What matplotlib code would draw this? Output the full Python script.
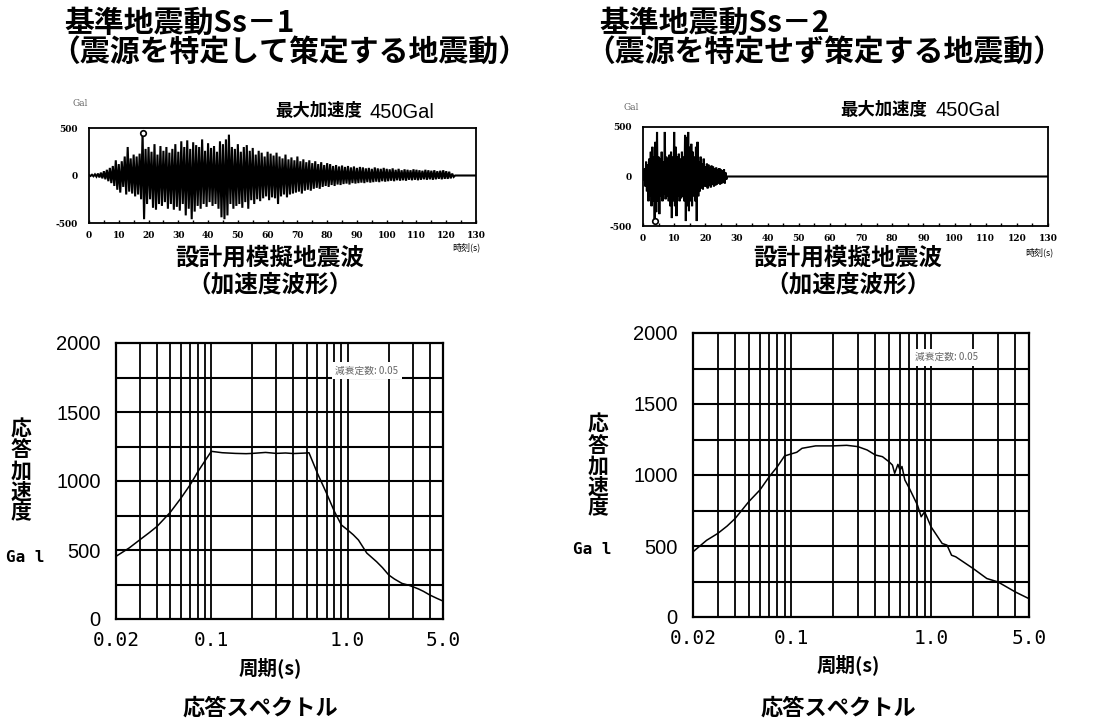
import matplotlib
matplotlib.use("Agg")
import matplotlib.pyplot as plt
from matplotlib.ticker import FixedLocator, NullFormatter, MultipleLocator

# ---------------- data ----------------
titles1 = ["基準地震動Ss－1", "（震源を特定して策定する地震動）"]
titles2 = ["基準地震動Ss－2", "（震源を特定せず策定する地震動）"]
peak_label_jp = "最大加速度"
peak_label_val = "450Gal"

# Ss-1 acceleration peaks, one positive / one negative per second (Gal)
ss1_pos = [5, 8, 12, 20, 30, 45, 60, 80, 100, 160,
           120, 150, 200, 300, 180, 220, 200, 230, 450, 280,
           300, 250, 330, 220, 310, 260, 300, 240, 280, 330,
           250, 360, 300, 370, 280, 350, 320, 300, 380, 260,
           340, 290, 310, 250, 360, 330, 380, 430, 300, 280,
           330, 250, 300, 320, 260, 290, 220, 260, 240, 200,
           250, 230, 210, 240, 200, 180, 220, 170, 190, 160,
           200, 150, 170, 140, 160, 130, 150, 120, 140, 110,
           130, 120, 100, 110, 95, 105, 90, 100, 85, 95,
           80, 90, 85, 75, 80, 70, 85, 75, 70, 80,
           70, 65, 75, 60, 70, 55, 65, 60, 55, 65,
           60, 55, 50, 60, 55, 50, 55, 45, 50, 55,
           45, 40, 20]
ss1_neg = [-5, -8, -12, -20, -30, -40, -60, -80, -110, -150,
           -180, -120, -200, -170, -190, -220, -200, -250, -460, -300,
           -250, -340, -360, -300, -320, -280, -350, -300, -360, -330,
           -370, -300, -420, -350, -460, -380, -320, -350, -300, -330,
           -280, -320, -300, -350, -440, -460, -420, -300, -350, -320,
           -300, -340, -280, -350, -260, -300, -250, -270, -240, -220,
           -260, -230, -240, -300, -220, -200, -230, -200, -190, -180,
           -170, -190, -160, -150, -160, -140, -130, -140, -120, -110,
           -120, -100, -110, -95, -100, -90, -85, -95, -80, -85,
           -80, -75, -80, -70, -75, -70, -65, -70, -60, -65,
           -60, -55, -60, -50, -55, -50, -55, -45, -50, -45,
           -50, -45, -40, -45, -40, -45, -40, -35, -40, -35,
           -35, -30, -15]
ss1_step = 1.0
ss1_max_time = 18.0
ss1_max_value = 450

# Ss-2 acceleration peaks, one positive / one negative per half second (Gal)
ss2_pos = [30, 80, 150, 120, 180, 250, 300, 200, 350, 450,
           200, 180, 250, 150, 450, 200, 180, 220, 250, 200,
           450, 300, 200, 230, 180, 250, 200, 420, 400, 450,
           300, 330, 250, 200, 300, 350, 150, 200, 130, 180,
           100, 130, 120, 90, 110, 100, 80, 90, 70, 85,
           70, 60, 75, 40]
ss2_neg = [-40, -100, -150, -250, -200, -300, -250, -450, -360, -250,
           -380, -200, -250, -180, -230, -200, -250, -300, -420, -250,
           -300, -400, -200, -250, -220, -200, -250, -450, -300, -350,
           -250, -300, -200, -250, -450, -200, -150, -120, -130, -100,
           -100, -120, -90, -110, -80, -100, -90, -80, -70, -80,
           -70, -60, -70, -30]
ss2_step = 0.5
ss2_max_time = 3.75
ss2_max_value = -450

wave_end = 130

# response spectra (period s, Gal)
ss1_T = [0.02, 0.025, 0.03, 0.035, 0.04, 0.05, 0.06, 0.07, 0.08, 0.09, 0.1,
         0.12, 0.15, 0.18, 0.2, 0.25, 0.3, 0.35, 0.4, 0.45, 0.5, 0.52,
         0.6, 0.7, 0.8, 0.9, 1.0, 1.1, 1.2, 1.38, 1.63, 1.8, 2.0, 2.2, 2.5,
         2.8, 3.0, 3.3, 3.6, 4.0, 4.5, 5.0]
ss1_A = [454, 515, 575, 625, 671, 773, 877, 973, 1070, 1147, 1215,
         1205, 1200, 1198, 1200, 1207, 1200, 1203, 1199, 1201, 1203, 1205,
         1056, 911, 778, 681, 645, 610, 572, 478, 415, 372, 319, 290, 258,
         245, 234, 218, 200, 174, 150, 130]

ss2_T = [0.02, 0.025, 0.03, 0.035, 0.04, 0.05, 0.06, 0.07, 0.08, 0.09, 0.1,
         0.11, 0.12, 0.15, 0.2, 0.25, 0.3, 0.35, 0.4, 0.45, 0.5, 0.53,
         0.55, 0.58, 0.6, 0.62, 0.65, 0.7, 0.8, 0.85, 0.9, 1.0, 1.2, 1.3,
         1.4, 1.5, 2.0, 2.5, 3.0, 4.0, 5.0]
ss2_A = [459, 540, 588, 640, 694, 812, 894, 988, 1059, 1134, 1148,
         1160, 1188, 1205, 1205, 1209, 1200, 1176, 1141, 1129, 1094, 1070,
         1012, 1075, 1035, 1060, 965, 906, 788, 706, 741, 635, 518, 506,
         435, 424, 341, 271, 247, 176, 129]

spec_xticks = [0.02, 0.1, 1.0, 5.0]
spec_xticklabels = ["0.02", "0.1", "1.0", "5.0"]
spec_yticks = [0, 500, 1000, 1500, 2000]
wave_xticks = list(range(0, 131, 10))
wave_yticks = [-500, 0, 500]

# ---------------- figure ----------------
W, H = 1109, 722
fig = plt.figure(figsize=(W / 100, H / 100), dpi=100)
JP = ["Noto Sans CJK JP", "DejaVu Sans"]


def box(x0, y0, x1, y1):
    return [x0 / W, 1 - y1 / H, (x1 - x0) / W, (y1 - y0) / H]


def ftext(x, y, s, **kw):
    kw.setdefault("family", JP)
    fig.text(x / W, 1 - y / H, s, **kw)


def build_wave(pos, neg, step):
    t, a = [], []
    for i, (p, n) in enumerate(zip(pos, neg)):
        t.append(i * step)
        a.append(p)
        t.append(i * step + step / 2)
        a.append(n)
    t.append(len(pos) * step)
    a.append(0)
    t.append(wave_end)
    a.append(0)
    return t, a


def draw_wave(rect, pos, neg, step, tmax, amax, gal_xy, time_xy, jp_x, val_x, peak_y):
    ax = fig.add_axes(box(*rect))
    t, a = build_wave(pos, neg, step)
    ax.plot(t, a, color="black", lw=1.5, solid_joinstyle="miter")
    ax.plot([tmax], [amax], marker="o", ms=4, mfc="white", mec="black", mew=1.2)
    ax.set_xlim(0, 130)
    ax.set_ylim(-500, 500)
    ax.set_xticks(wave_xticks)
    ax.xaxis.set_minor_locator(MultipleLocator(5))
    ax.set_yticks(wave_yticks)
    ax.set_yticklabels(["-500", "0", "500"])
    ax.tick_params(axis="x", which="both", direction="in", length=2, width=1,
                   pad=6, labelsize=6.5)
    ax.tick_params(axis="y", length=0, pad=8, labelsize=6.5)
    for lab in ax.get_xticklabels() + ax.get_yticklabels():
        lab.set_family("DejaVu Serif")
        lab.set_fontweight("bold")
    for s in ax.spines.values():
        s.set_linewidth(1.3)
    ftext(*gal_xy, "Gal", family="DejaVu Serif", fontsize=6.5, color="#666666",
          ha="center", va="center")
    ftext(*time_xy, "時刻(s)", fontsize=6.5, ha="left", va="center")
    ftext(jp_x, peak_y, peak_label_jp, fontsize=12.5, fontweight="bold",
          ha="left", va="center")
    ftext(val_x, peak_y + 1, peak_label_val, family="Liberation Sans",
          fontsize=14.5, ha="left", va="center")


def draw_spec(rect, T, A, ylab_x, ylab_y, gal_x, gal_y, damp_xy):
    ax = fig.add_axes(box(*rect))
    ax.set_xscale("log")
    ax.set_xlim(0.02, 5.0)
    ax.set_ylim(0, 2000)
    vlines = [0.02, 0.03, 0.04, 0.05, 0.06, 0.07, 0.08, 0.09, 0.1,
              0.2, 0.3, 0.4, 0.5, 0.6, 0.7, 0.8, 0.9, 1.0, 2.0, 3.0, 4.0, 5.0]
    for v in vlines:
        ax.axvline(v, color="black", lw=1.3, zorder=1)
    for h in range(250, 2000, 250):
        ax.axhline(h, color="black", lw=1.5, zorder=1)
    ax.plot(T, A, color="black", lw=1.1, zorder=3)
    ax.xaxis.set_major_locator(FixedLocator(spec_xticks))
    ax.xaxis.set_minor_locator(FixedLocator([]))
    ax.xaxis.set_minor_formatter(NullFormatter())
    ax.set_xticklabels(spec_xticklabels)
    ax.set_yticks(spec_yticks)
    ax.tick_params(axis="both", length=0)
    ax.tick_params(axis="x", pad=9)
    ax.tick_params(axis="y", pad=11)
    for lab in ax.get_xticklabels():
        lab.set_family("DejaVu Sans Mono")
        lab.set_fontsize(14)
    for lab in ax.get_yticklabels():
        lab.set_family("Liberation Sans")
        lab.set_fontsize(14.5)
    for s in ax.spines.values():
        s.set_linewidth(1.6)
    ax.text(damp_xy[0], damp_xy[1], "減衰定数: 0.05", transform=ax.transAxes,
            family=JP, fontsize=7, color="#666666", ha="left", va="center",
            zorder=5,
            bbox=dict(facecolor="white", edgecolor="none", pad=2.5))
    ftext(ylab_x, ylab_y, "\n".join("応答加速度"), fontsize=15, fontweight="bold",
          ha="center", va="center", linespacing=1.0)
    ftext(gal_x, gal_y, "Ga l", family="DejaVu Sans Mono", fontsize=11.5,
          fontweight="bold", ha="center", va="center")


# titles
for x0, lines in ((64, titles1), (599, titles2)):
    ftext(x0, 23, lines[0], fontsize=21.5, fontweight="bold", ha="left", va="center")
    ftext(x0 - 14, 52, lines[1], fontsize=21.5, fontweight="bold",
          ha="left", va="center")

draw_wave((89, 128, 476, 223), ss1_pos, ss1_neg, ss1_step,
          ss1_max_time, ss1_max_value, (80, 104), (452, 247), 275, 370, 111)
draw_wave((643, 127, 1048, 226), ss2_pos, ss2_neg, ss2_step,
          ss2_max_time, ss2_max_value, (631, 107), (1025, 252), 840, 935, 110)

for cx in (270, 848):
    ftext(cx, 258, "設計用模擬地震波", fontsize=17, fontweight="bold",
          ha="center", va="center")
    ftext(cx, 284, "（加速度波形）", fontsize=17, fontweight="bold",
          ha="center", va="center")

draw_spec((116, 343, 443, 619), ss1_T, ss1_A, 21, 471, 25, 557, (0.67, 0.9))
draw_spec((693, 333, 1029, 617), ss2_T, ss2_A, 598, 466, 592, 550, (0.66, 0.915))

for cx, cy in ((270, 668), (848, 665)):
    ftext(cx, cy, "周期(s)", fontsize=14, fontweight="bold", ha="center", va="center")
for cx in (260, 838):
    ftext(cx, 708, "応答スペクトル", fontsize=16, fontweight="bold",
          ha="center", va="center")

fig.savefig("out.png", dpi=100)
